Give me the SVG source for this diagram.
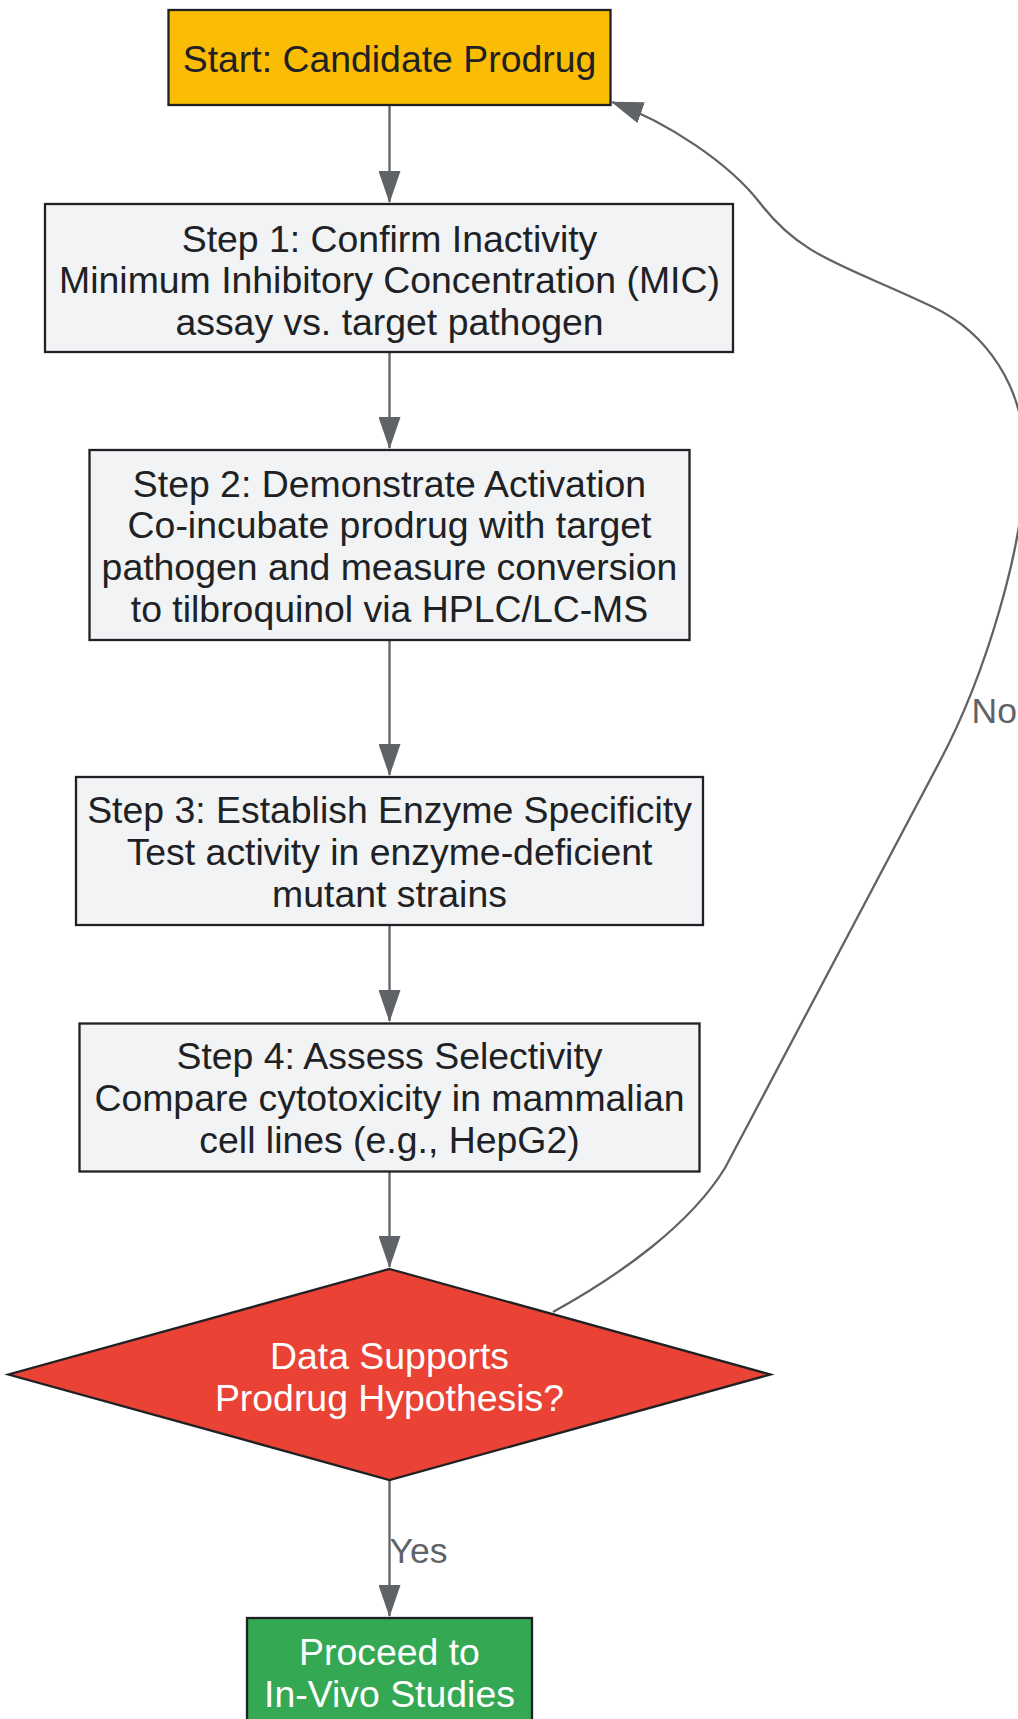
<svg xmlns="http://www.w3.org/2000/svg" width="1018" height="1719" viewBox="0 0 1018 1719">
<style>
.node rect, .node polygon { stroke: #202124; stroke-width: 2.3; }
.step rect { fill: #F1F3F4; }
.t { font-family: "Liberation Sans", Arial, sans-serif; font-size: 37.4px; fill: #202124; text-anchor: middle; }
.tw { fill: #FFFFFF; }
.edge { fill: none; stroke: #5F6368; stroke-width: 2.3; }
.lbl { font-family: "Liberation Sans", Arial, sans-serif; font-size: 35.5px; fill: #5F6368; }
</style>
<defs>
<marker id="arrow" viewBox="0 0 32 22" refX="31" refY="11" markerWidth="32" markerHeight="22" markerUnits="userSpaceOnUse" orient="auto">
<path d="M0,0 L32,11 L0,22 z" fill="#5F6368"/>
</marker>
</defs>
<rect width="1018" height="1719" fill="#FFFFFF"/>
<g id="connectors">
<path class="edge" d="M389.5,105 L389.5,202" marker-end="url(#arrow)"/>
<path class="edge" d="M389.5,352 L389.5,448" marker-end="url(#arrow)"/>
<path class="edge" d="M389.5,640 L389.5,775" marker-end="url(#arrow)"/>
<path class="edge" d="M389.5,925 L389.5,1021" marker-end="url(#arrow)"/>
<path class="edge" d="M389.5,1171.5 L389.5,1267" marker-end="url(#arrow)"/>
<path class="edge" d="M389.5,1480 L389.5,1616" marker-end="url(#arrow)"/>
<path class="edge" d="M553,1312 C620,1275 690,1225 725,1168 L940,761 C985,676 1025,545 1025,460 C1025,385 985,332 933,307 C843,264 802.7,258.3 760,203 C729.5,163.5 668.4,122.4 612,102" marker-end="url(#arrow)"/>
<text class="lbl" x="389.5" y="1563">Yes</text>
<text class="lbl" x="971.5" y="722.5">No</text>
</g>
<g id="start" class="node">
<rect x="168.5" y="10" width="442" height="95" fill="#FBBC04"/>
<text class="t" x="389.5" y="71.7">Start: Candidate Prodrug</text>
</g>
<g id="step1" class="node step">
<rect x="45" y="204" width="688" height="148"/>
<text class="t" x="389.5" y="251.7">Step 1: Confirm Inactivity</text>
<text class="t" x="389.5" y="293.3">Minimum Inhibitory Concentration (MIC)</text>
<text class="t" x="389.5" y="335">assay vs. target pathogen</text>
</g>
<g id="step2" class="node step">
<rect x="89.5" y="450" width="600" height="190"/>
<text class="t" x="389.5" y="496.7">Step 2: Demonstrate Activation</text>
<text class="t" x="389.5" y="538.3">Co-incubate prodrug with target</text>
<text class="t" x="389.5" y="580">pathogen and measure conversion</text>
<text class="t" x="389.5" y="621.7">to tilbroquinol via HPLC/LC-MS</text>
</g>
<g id="step3" class="node step">
<rect x="76" y="777" width="627" height="148"/>
<text class="t" x="389.5" y="823.3">Step 3: Establish Enzyme Specificity</text>
<text class="t" x="389.5" y="865">Test activity in enzyme-deficient</text>
<text class="t" x="389.5" y="906.7">mutant strains</text>
</g>
<g id="step4" class="node step">
<rect x="79.5" y="1023.5" width="620" height="148"/>
<text class="t" x="389.5" y="1069">Step 4: Assess Selectivity</text>
<text class="t" x="389.5" y="1111">Compare cytotoxicity in mammalian</text>
<text class="t" x="389.5" y="1152.7">cell lines (e.g., HepG2)</text>
</g>
<g id="decision" class="node">
<polygon points="389.5,1269 770.5,1374.5 389.5,1480 8.5,1374.5" fill="#EA4335"/>
<text class="t tw" x="389.5" y="1368.5">Data Supports</text>
<text class="t tw" x="389.5" y="1410.5">Prodrug Hypothesis?</text>
</g>
<g id="proceed" class="node">
<rect x="247" y="1618" width="285" height="106" fill="#34A853"/>
<text class="t tw" x="389.5" y="1665">Proceed to</text>
<text class="t tw" x="389.5" y="1706.7">In-Vivo Studies</text>
</g>
</svg>
